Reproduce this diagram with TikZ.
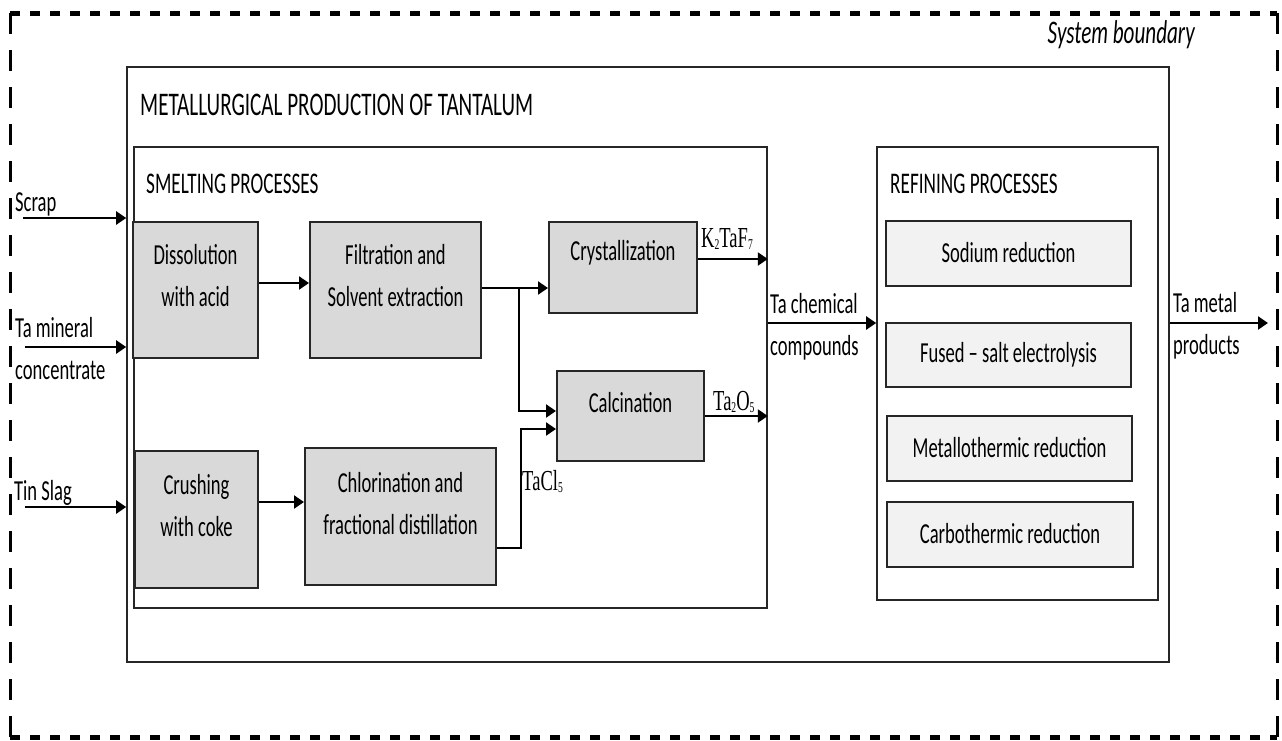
\documentclass[tikz,border=0pt]{standalone}
\usepackage{fontspec}
\usetikzlibrary{arrows.meta}
\newfontfamily\cfont[FakeStretch=0.64]{Carlito}
\newfontfamily\sfont[FakeStretch=0.64]{Liberation Serif}
\definecolor{procgray}{HTML}{D9D9D9}
\definecolor{refgray}{HTML}{F2F2F2}
\definecolor{edge}{HTML}{262626}
\newcommand{\chsub}[1]{\raisebox{-2pt}{\fontsize{15}{15}\selectfont #1}}

\begin{document}
\begin{tikzpicture}[x=1pt,y=-1pt,
  frame/.style={draw=edge,line width=1.6pt,inner sep=0pt},
  procbox/.style={draw=edge,line width=2pt,fill=procgray,inner sep=0pt},
  refbox/.style={draw=edge,line width=2pt,fill=refgray,inner sep=0pt},
  txt/.style={font=\cfont\fontsize{29}{42}\selectfont,inner sep=0pt,align=center},
  lbl/.style={font=\cfont\fontsize{29}{42}\selectfont,inner sep=0pt,align=left},
  head/.style={font=\cfont\fontsize{30}{30}\selectfont,inner sep=0pt},
  chem/.style={font=\sfont\fontsize{29}{29}\selectfont,inner sep=0pt},
  flow/.style={draw=black,line width=2.2pt,-{Triangle[length=10pt,width=13pt]}},
  hdash/.style={line width=5pt,dash pattern=on 10pt off 10pt},
  vdash/.style={line width=3pt,dash pattern=on 21pt off 16pt},
]
\useasboundingbox (0,0) rectangle (1282,740);

% system boundary
\draw[hdash] (10,13) -- (1277,13);
\draw[hdash] (10,737) -- (1277,737);
\draw[vdash] (10,13) -- (10,737);
\draw[vdash] (1277,13) -- (1277,737);
\node[font=\cfont\itshape\fontsize{33}{33}\selectfont,inner sep=0pt,anchor=base east]
  (sysb) at (1195,43) {System boundary};

% containers
\node[frame,minimum width=1042pt,minimum height=595pt] (outer) at (648,364.5) {};
\node[frame,minimum width=633pt,minimum height=461pt] (smelt) at (450.5,377.5) {};
\node[frame,minimum width=281pt,minimum height=453pt] (refin) at (1017.5,373.5) {};

\node[font=\cfont\fontsize{33}{33}\selectfont,inner sep=0pt,anchor=base west]
  (title) at (140,115) {METALLURGICAL PRODUCTION OF TANTALUM};
\node[head,anchor=base west] (smelthead) at (146,193) {SMELTING PROCESSES};
\node[head,anchor=base west] (refhead) at (890,193) {REFINING PROCESSES};

% smelting steps
\node[procbox,minimum width=125pt,minimum height=136pt] (diss) at (195.5,290) {};
\node[procbox,minimum width=171pt,minimum height=136pt] (filt) at (395.5,290) {};
\node[procbox,minimum width=148pt,minimum height=91pt] (cryst) at (623,267.5) {};
\node[procbox,minimum width=147pt,minimum height=90pt] (calc) at (630.5,416) {};
\node[procbox,minimum width=123pt,minimum height=137pt] (crush) at (196.5,519.5) {};
\node[procbox,minimum width=191pt,minimum height=137pt] (chlor) at (400.5,516.5) {};

\node[txt] (disst) at (195.5,276) {Dissolution\\with acid};
\node[txt] (filtt) at (395.5,276) {Filtration and\\Solvent extraction};
\node[txt,anchor=base] (crystt) at (623,260) {Crystallization};
\node[txt,anchor=base] (calct) at (630.5,412) {Calcination};
\node[txt] (crusht) at (196.5,506) {Crushing\\with coke};
\node[txt] (chlort) at (400.5,504) {Chlorination and\\fractional distillation};

% refining steps
\node[refbox,minimum width=245pt,minimum height=65pt] (sod) at (1008.5,253.5) {};
\node[refbox,minimum width=245pt,minimum height=64pt] (fused) at (1008.5,355) {};
\node[refbox,minimum width=245pt,minimum height=65pt] (metallo) at (1009.5,448.5) {};
\node[refbox,minimum width=246pt,minimum height=65pt] (carbo) at (1010,534.5) {};

\node[txt,anchor=base] (sodt) at (1008.5,262) {Sodium reduction};
\node[txt,anchor=base] (fusedt) at (1008.5,362) {Fused – salt electrolysis};
\node[txt,anchor=base] (metallot) at (1009.5,457) {Metallothermic reduction};
\node[txt,anchor=base] (carbot) at (1010,543) {Carbothermic reduction};

% inputs
\node[lbl,anchor=base west] (scrapl) at (15,211) {Scrap};
\node[lbl,anchor=west] (minl) at (15,348.5) {Ta mineral\\concentrate};
\node[lbl,anchor=base west] (tinl) at (14,500) {Tin Slag};
\coordinate (scrapin) at (23,218);
\coordinate (minin) at (25,347);
\coordinate (tinin) at (25,507);
\draw[flow] (scrapin) -- (scrapin -| outer.west);
\draw[flow] (minin) -- (minin -| outer.west);
\draw[flow] (tinin) -- (tinin -| outer.west);

% smelting flows
\draw[flow] ([yshift=7pt]diss.east) -- ([yshift=7pt]diss.east -| filt.west);
\draw[flow] ([yshift=17.5pt]crush.east) -- ([yshift=17.5pt]crush.east -| chlor.west);
\draw[flow] ([yshift=2pt]filt.east) -- ([yshift=2pt]filt.east -| cryst.west);
\coordinate (split) at (519,288);
\draw[flow] (split) |- ([yshift=5pt]calc.west);
\coordinate (tacl) at (521,429);
\draw[flow] ([yshift=-31.5pt]chlor.east) -| (tacl) -- (tacl -| calc.west);
\draw[flow] ([yshift=8.5pt]cryst.east) -- ([yshift=8.5pt]cryst.east -| smelt.east);
\draw[flow] (calc.east) -- (calc.east -| smelt.east);

\node[chem,anchor=base west] (k2taf7) at (701,247) {K\chsub{2}TaF\chsub{7}};
\node[chem,anchor=base west] (ta2o5) at (713,410) {Ta\chsub{2}O\chsub{5}};
\node[chem,anchor=base west] (tacl5) at (522,490) {TaCl\chsub{5}};

% to refining and out
\draw[flow] ([yshift=54.5pt]smelt.east) -- ([yshift=54.5pt]smelt.east -| refin.west);
\node[lbl,anchor=west] (chemt) at (770,327) {Ta chemical\\compounds};
\coordinate (metalout) at (1268,323);
\draw[flow] ([yshift=41.5pt]outer.east) -- (metalout);
\node[lbl,anchor=west] (metalt) at (1173,326) {Ta metal\\products};
\end{tikzpicture}
\end{document}
